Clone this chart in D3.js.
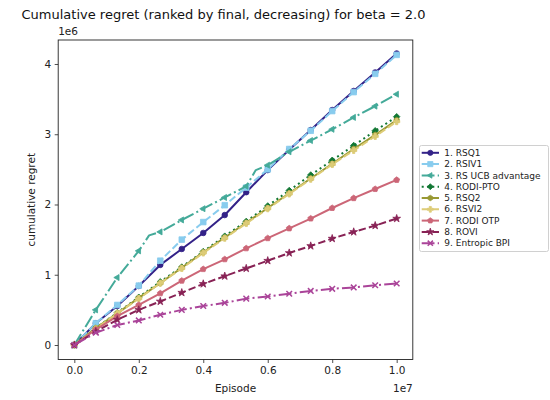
<!DOCTYPE html>
<html>
<head>
<meta charset="utf-8">
<script src="https://cdn.jsdelivr.net/npm/d3@7/dist/d3.min.js"></script>
<style>
  html, body { margin: 0; padding: 0; background: #fff; }
  svg { display: block; font-family: "DejaVu Sans", sans-serif; }
</style>
</head>
<body>
<svg id="chart" width="550" height="400"></svg>
<script>
// Episode grid shared by all runs (markers are drawn at these points)
const episodes = [0, 666667, 1333333, 2000000, 2666667, 3333333, 4000000, 4666667,
  5333333, 6000000, 6666667, 7333333, 8000000, 8666667, 9333333, 10000000];

// Cumulative regret per algorithm, in millions
const rsq1 = [0, 0.31, 0.555, 0.84, 1.14, 1.367, 1.595, 1.85, 2.175, 2.49, 2.78, 3.06, 3.345, 3.616, 3.88, 4.15];
const rsiv1 = [0, 0.31, 0.57, 0.845, 1.2, 1.5, 1.75, 1.99, 2.24, 2.5, 2.79, 3.05, 3.33, 3.60, 3.86, 4.13];
const rsUcb = [0, 0.5, 0.96, 1.34, 1.61, 1.78, 1.94, 2.1, 2.26, 2.56, 2.75, 2.91, 3.07, 3.24, 3.40, 3.57];
const rodiPto = [0, 0.24, 0.46, 0.68, 0.9, 1.11, 1.33, 1.55, 1.76, 1.98, 2.2, 2.42, 2.63, 2.84, 3.05, 3.25];
const rsq2 = [0, 0.24, 0.45, 0.67, 0.88, 1.1, 1.32, 1.53, 1.74, 1.95, 2.16, 2.37, 2.58, 2.79, 2.99, 3.20];
const rsvi2 = [0, 0.23, 0.45, 0.66, 0.88, 1.09, 1.31, 1.52, 1.73, 1.94, 2.15, 2.36, 2.57, 2.77, 2.97, 3.18];
const rodiOtp = [0, 0.22, 0.41, 0.57, 0.735, 0.915, 1.08, 1.22, 1.376, 1.52, 1.66, 1.80, 1.95, 2.09, 2.22, 2.35];
const rovi = [0, 0.19, 0.36, 0.5, 0.62, 0.745, 0.87, 0.98, 1.09, 1.2, 1.31, 1.41, 1.515, 1.61, 1.70, 1.80];
const entropicBpi = [0, 0.175, 0.285, 0.35, 0.43, 0.5, 0.555, 0.6, 0.66, 0.69, 0.73, 0.77, 0.80, 0.82, 0.85, 0.875];

// RS UCB advantage has two jumps between logged marker points
const rsUcbExtraEpisodes = [2320000, 5630000];
const rsUcbExtraValues = [1.56, 2.49];

const seriesLabels = ["1. RSQ1", "2. RSIV1", "3. RS UCB advantage", "4. RODI-PTO", "5. RSQ2",
  "6. RSVI2", "7. RODI OTP", "8. ROVI", "9. Entropic BPI"];
const seriesValues = [rsq1, rsiv1, rsUcb, rodiPto, rsq2, rsvi2, rodiOtp, rovi, entropicBpi];
const seriesColors = ["#332288", "#88CCEE", "#44AA99", "#117733", "#999933", "#DDCC77", "#CC6677", "#882255", "#AA4499"];
const seriesDashes = [null, "7.4,3.2", "12.8,3.2,2,3.2", "2,3.3", null, "7.4,3.2", null, "7.4,3.2", "12.8,3.2,2,3.2"];
const seriesMarkers = ["circle", "square", "triangleLeft", "diamond", "hexagon", "plus", "pentagon", "star", "x"];

const yTicks = [0, 1e6, 2e6, 3e6, 4e6];
const xTicks = [0, 2e6, 4e6, 6e6, 8e6, 1e7];

const svg = d3.select("#chart");
const plot = { left: 58.2, right: 412.8, top: 40, bottom: 359.5 };

const x = d3.scaleLinear().domain([-5e5, 1.05e7]).range([plot.left, plot.right]);
const y = d3.scaleLinear().domain([-0.2064e6, 4.3416e6]).range([plot.bottom, plot.top]);

// Marker shapes, returned as path strings centred on the origin
function regularPolygon(n, r, rot) {
  const pts = d3.range(n).map(i => {
    const a = rot + i * 2 * Math.PI / n;
    return [r * Math.cos(a), r * Math.sin(a)];
  });
  return "M" + pts.map(p => p.join(",")).join("L") + "Z";
}
function markerPath(kind, s) {
  switch (kind) {
    case "circle": return d3.symbol(d3.symbolCircle, Math.PI * s * s)();
    case "square": return `M${-s},${-s}h${2 * s}v${2 * s}h${-2 * s}Z`;
    case "triangleLeft": return regularPolygon(3, s * 1.25, Math.PI);
    case "diamond": return regularPolygon(4, s * 1.15, -Math.PI / 2);
    case "hexagon": return regularPolygon(6, s * 1.05, -Math.PI / 2);
    case "pentagon": return regularPolygon(5, s * 1.1, -Math.PI / 2);
    case "plus": {
      const a = s * 1.1, b = s * 0.4;
      return `M${-b},${-a}H${b}V${-b}H${a}V${b}H${b}V${a}H${-b}V${b}H${-a}V${-b}H${-b}Z`;
    }
    case "star": return d3.symbol(d3.symbolStar, s * s * 2.4)();
    case "x": return `M${-s},${-s}L${s},${s}M${-s},${s}L${s},${-s}`;
  }
}
function drawMarker(g, kind, color, cx, cy, s) {
  const p = g.append("path")
    .attr("d", markerPath(kind, s))
    .attr("transform", `translate(${cx},${cy})`);
  if (kind === "x") {
    p.attr("fill", "none").attr("stroke", color).attr("stroke-width", 1.5);
  } else {
    p.attr("fill", color).attr("stroke", color).attr("stroke-width", 0.8);
  }
}

// Axes
const yAxis = d3.axisLeft(y).tickValues(yTicks).tickFormat(d => d3.format("d")(d / 1e6))
  .tickSize(3.5).tickPadding(3.5);
const xAxis = d3.axisBottom(x).tickValues(xTicks).tickFormat(d => (d / 1e7).toFixed(1))
  .tickSize(3.5).tickPadding(3.5);

const gy = svg.append("g").attr("transform", `translate(${plot.left},0)`).call(yAxis);
const gx = svg.append("g").attr("transform", `translate(0,${plot.bottom})`).call(xAxis);
[gx, gy].forEach(g => {
  g.select(".domain").remove();
  g.selectAll("line").attr("stroke", "#222").attr("stroke-width", 0.8);
  g.selectAll("text").attr("fill", "#222").style("font-size", "10.5px")
    .style("font-family", "'DejaVu Sans', sans-serif");
});

// Series lines and markers
const line = d3.line().x(d => x(d[0])).y(d => y(d[1]));
const plotArea = svg.append("g");
seriesValues.forEach((vals, k) => {
  let pts = episodes.map((e, i) => [e, vals[i] * 1e6]);
  if (k === 2) {
    rsUcbExtraEpisodes.forEach((e, j) => pts.push([e, rsUcbExtraValues[j] * 1e6]));
    pts.sort((a, b) => a[0] - b[0]);
  }
  const g = plotArea.append("g");
  const path = g.append("path").datum(pts)
    .attr("d", line)
    .attr("fill", "none")
    .attr("stroke", seriesColors[k])
    .attr("stroke-width", 2)
    .attr("stroke-linejoin", "round");
  if (seriesDashes[k]) path.attr("stroke-dasharray", seriesDashes[k]);
  episodes.forEach((e, i) => drawMarker(g, seriesMarkers[k], seriesColors[k], x(e), y(vals[i] * 1e6), 2.8));
});

// Frame
svg.append("rect")
  .attr("x", plot.left).attr("y", plot.top)
  .attr("width", plot.right - plot.left).attr("height", plot.bottom - plot.top)
  .attr("fill", "none").attr("stroke", "#222").attr("stroke-width", 0.9);

// Titles and labels
svg.append("text").attr("x", 223.5).attr("y", 18.5).attr("text-anchor", "middle")
  .style("font-size", "13px").attr("fill", "#111")
  .text("Cumulative regret (ranked by final, decreasing) for beta = 2.0");
svg.append("text").attr("x", plot.left).attr("y", 35).style("font-size", "10.5px").attr("fill", "#222").text("1e6");
svg.append("text").attr("x", plot.right).attr("y", 392).attr("text-anchor", "end")
  .style("font-size", "10.5px").attr("fill", "#222").text("1e7");
svg.append("text").attr("x", (plot.left + plot.right) / 2).attr("y", 392).attr("text-anchor", "middle")
  .style("font-size", "10.5px").attr("fill", "#222").text("Episode");
svg.append("text").attr("transform", `translate(35,${(plot.top + plot.bottom) / 2}) rotate(-90)`)
  .attr("text-anchor", "middle").style("font-size", "10.5px").attr("fill", "#222").text("cumulative regret");

// Legend
const legend = svg.append("g");
legend.append("rect").attr("x", 419.5).attr("y", 145.5).attr("width", 129).attr("height", 106)
  .attr("rx", 2).attr("fill", "#fff").attr("fill-opacity", 0.8)
  .attr("stroke", "#d0d0d0").attr("stroke-width", 1);
seriesLabels.forEach((lab, k) => {
  const cy = 152.8 + k * 11.3;
  const lg = legend.append("g");
  const l = lg.append("line").attr("x1", 421.7).attr("x2", 439).attr("y1", cy).attr("y2", cy)
    .attr("stroke", seriesColors[k]).attr("stroke-width", 2);
  if (seriesDashes[k]) l.attr("stroke-dasharray", seriesDashes[k]);
  drawMarker(lg, seriesMarkers[k], seriesColors[k], 430.3, cy, 2.6);
  lg.append("text").attr("x", 444.3).attr("y", cy).attr("dy", "0.35em")
    .style("font-size", "9px").attr("fill", "#222").text(lab);
});
</script>
</body>
</html>
